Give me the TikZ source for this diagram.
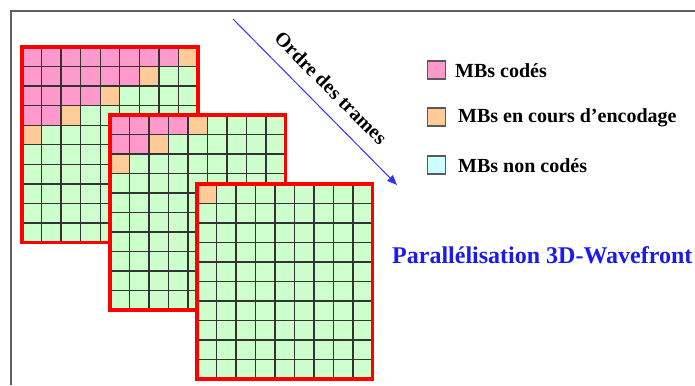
\documentclass[tikz,border=0pt]{standalone}
\usepackage{fontspec}
\setmainfont{Liberation Serif}
\usetikzlibrary{arrows.meta}
\definecolor{mbpink}{HTML}{FF99CC}
\definecolor{mborange}{HTML}{FFCC99}
\definecolor{mbgreen}{HTML}{CCFFCC}
\definecolor{mbcyan}{HTML}{CCFFFF}
\definecolor{mbblue}{HTML}{1A1AF0}
\definecolor{arrowblue}{HTML}{3333FF}
\definecolor{framegray}{HTML}{606060}
\newcommand\mbgrid[4]{%
  \foreach \r in {0,...,9}{\foreach \c in {0,...,8}{%
    \pgfmathtruncatemacro\f{#4-2*\r}%
    \ifnum\c<\f \def\mbcol{mbpink}\else\ifnum\c=\f \def\mbcol{mborange}\else\def\mbcol{mbgreen}\fi\fi
    \fill[\mbcol] ({#1+\c*#3},{#2+\r*#3}) rectangle ({#1+\c*#3+#3},{#2+\r*#3+#3});
  }}%
  \foreach \i in {1,...,8}{\draw[gridline] ({#1+\i*#3},#2) -- ({#1+\i*#3},{#2+10*#3});}
  \foreach \j in {1,...,9}{\draw[gridline] (#1,{#2+\j*#3}) -- ({#1+9*#3},{#2+\j*#3});}
  \draw[redborder] (#1,#2) rectangle ({#1+9*#3},{#2+10*#3});
}
\begin{document}
\begin{tikzpicture}[x=1pt,y=-1pt,
  gridline/.style={black!80,line width=1.3pt},
  redborder/.style={red,line width=3.2pt},
  legbox/.style={draw=black!65,line width=1.3pt,minimum size=18pt,inner sep=0pt},
  legtext/.style={anchor=west,font=\bfseries\fontsize{20}{24}\selectfont,inner sep=0pt},
]
\useasboundingbox (0,0) rectangle (695,385);
\draw[framegray,line width=1.5pt] (11,385) -- (11,11) -- (695,11);
\mbgrid{22}{47}{19.55}{8}
\mbgrid{110}{115}{19.5}{4}
\mbgrid{197}{184}{19.5}{0}
\coordinate (a0) at (233,19);
\coordinate (a1) at (397,185);
\draw[arrowblue,line width=1pt,-{Triangle[length=10pt,width=8pt]}] (a0) -- (a1);
\node[rotate=-45,inner sep=0pt,font=\bfseries\fontsize{20}{24}\selectfont] (ordre) at (331,88) {Ordre des trames};
\node[legbox,fill=mbpink] (lp) at (436.5,70) {};
\node[legbox,fill=mborange] (lo) at (436.5,117) {};
\node[legbox,fill=mbcyan] (lc) at (436.5,165) {};
\node[legtext] (tp) at (455,71) {MBs codés};
\node[legtext] (to) at (458,118) {MBs en cours d’encodage};
\node[legtext] (tc) at (458,166) {MBs non codés};
\node[anchor=west,inner sep=0pt,text=mbblue,font=\bfseries\fontsize{24}{28}\selectfont] (title) at (392,255) {Parallélisation 3D-Wavefront};
\end{tikzpicture}
\end{document}
